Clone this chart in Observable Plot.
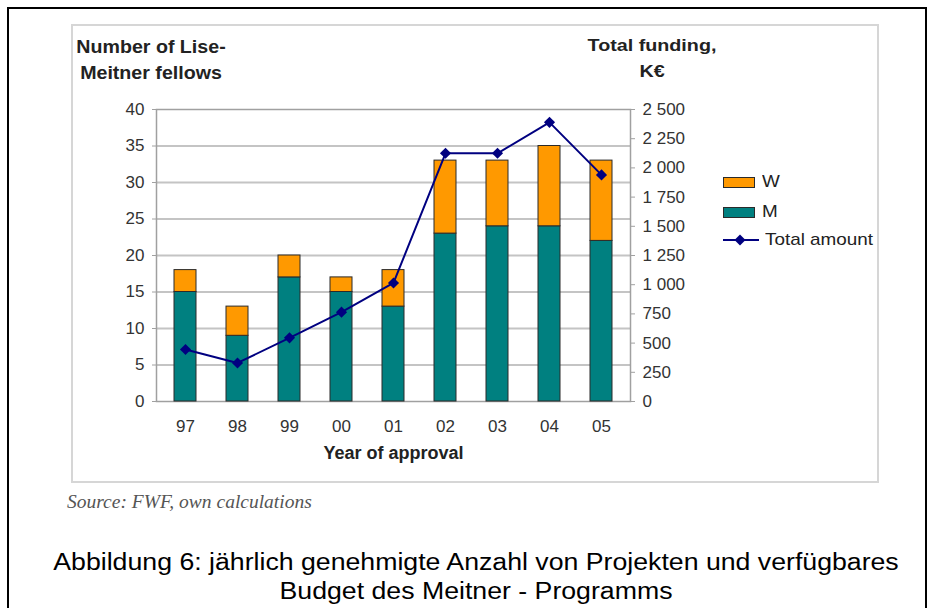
<!DOCTYPE html>
<html>
<head>
<meta charset="utf-8">
<script src="https://cdn.jsdelivr.net/npm/d3@7"></script>
<script src="https://cdn.jsdelivr.net/npm/@observablehq/plot@0.6"></script>
<style>
  html, body { margin: 0; padding: 0; background: #fff; overflow: hidden; }
  #page { position: relative; width: 931px; height: 608px; overflow: hidden; font-family: "Liberation Sans", Arial, sans-serif; }
  #frame { position: absolute; left: 7px; top: 7px; width: 920px; height: 660px; box-sizing: border-box; border: 2px solid #000; }
  #panel { position: absolute; left: 71px; top: 24px; width: 808px; height: 459px; box-sizing: border-box; border: 2px solid #d6d6d6; background: #fff; }
  #chart { position: absolute; left: 0; top: 0; }
  .title { position: absolute; font-weight: bold; color: #222; text-align: center; white-space: nowrap; line-height: 26px; transform-origin: 50% 50%; }
  .leg { position: absolute; font-size: 17px; color: #222; line-height: 20px; white-space: nowrap; transform: scaleX(1.11); transform-origin: 0 50%; }
  .sw { position: absolute; width: 32px; height: 11px; box-sizing: border-box; border: 1px solid #2a2a2a; }
  #source { position: absolute; left: 67px; top: 490px; font-family: "Liberation Serif", "Times New Roman", serif; font-style: italic; font-size: 19.5px; line-height: 24px; color: #555; white-space: nowrap; }
  #caption { position: absolute; left: 0; top: 548px; width: 952px; text-align: center; font-size: 23px; line-height: 29px; color: #000; transform: scaleX(1.16); transform-origin: 476px 50%; }
</style>
</head>
<body>
<div id="page">
  <div id="frame"></div>
  <div id="panel"></div>
  <div id="chart"></div>
  <div class="title" style="left:51px;top:34px;width:200px;font-size:18px;transform:scaleX(1.09);">Number of Lise-<br>Meitner fellows</div>
  <div class="title" style="left:552px;top:33px;width:200px;font-size:17px;transform:scaleX(1.16);">Total funding,<br>K€</div>
  <div class="sw" style="left:723px;top:177px;background:#FF9900;"></div>
  <div class="leg" style="left:762px;top:172px;">W</div>
  <div class="sw" style="left:723px;top:207px;background:#008080;"></div>
  <div class="leg" style="left:762px;top:202px;">M</div>
  <svg style="position:absolute;left:721px;top:232px;" width="40" height="16">
    <line x1="2" y1="8" x2="38" y2="8" stroke="#000080" stroke-width="2"></line>
    <path d="M19,2.5 L24.5,8 L19,13.5 L13.5,8 Z" fill="#000080"></path>
  </svg>
  <div class="leg" style="left:765px;top:230px;">Total amount</div>
  <div id="source">Source: FWF, own calculations</div>
  <div id="caption">Abbildung 6: jährlich genehmigte Anzahl von Projekten und verfügbares<br>Budget des Meitner - Programms</div>
</div>
<script>
// ---- data ----
const years = ["97", "98", "99", "00", "01", "02", "03", "04", "05"];
const men = [15, 9, 17, 15, 13, 23, 24, 24, 22];        // M fellows
const women = [3, 4, 3, 2, 5, 10, 9, 11, 11];          // W fellows
const funding = [445, 330, 545, 765, 1015, 2125, 2125, 2390, 1940]; // Total amount, K€
const countTicks = [0, 5, 10, 15, 20, 25, 30, 35, 40];
const fundingTicks = [0, 250, 500, 750, 1000, 1250, 1500, 1750, 2000, 2250, 2500];
const groups = ["M", "W"];
const groupColors = ["#008080", "#FF9900"];
const countMax = 40, fundingMax = 2500;

// ---- build tables ----
const k = countMax / fundingMax; // maps K€ onto the left axis units
const stacked = [
  ...years.map((y, i) => ({year: y, group: "M", value: men[i]})),
  ...years.map((y, i) => ({year: y, group: "W", value: women[i]}))
];
const totals = years.map((y, i) => ({year: y, funding: funding[i]}));
const fmt = d3.formatLocale({decimal: ",", thousands: " ", grouping: [3], currency: ["", ""]}).format(",");

const chart = Plot.plot({
  width: 931,
  height: 480,
  marginLeft: 156,
  marginRight: 301,
  marginTop: 109,
  marginBottom: 79,
  style: {fontFamily: "'Liberation Sans', Arial, sans-serif", fontSize: "17px", color: "#333", background: "transparent", overflow: "visible"},
  x: {domain: years, paddingInner: 0.58, paddingOuter: 0.29, label: null},
  y: {domain: [0, countMax], label: null},
  color: {domain: groups, range: groupColors},
  marks: [
    Plot.gridY(countTicks.slice(1, -1), {stroke: "#c4c4c4", strokeWidth: 2, strokeOpacity: 1}),
    Plot.frame({stroke: "#a0a0a0", strokeWidth: 1.5}),
    Plot.axisY(countTicks, {anchor: "left", tickSize: 4, tickPadding: 8, stroke: "#a0a0a0", label: null}),
    Plot.axisY(fundingTicks.map(v => v * k), {anchor: "right", tickSize: 4, tickPadding: 8, stroke: "#a0a0a0", tickFormat: d => fmt(Math.round(d / k)), label: null}),
    Plot.axisX({tickSize: 0, tickPadding: 18, label: null}),
    Plot.barY(stacked, {x: "year", y: "value", fill: "group", stroke: "#2a2a2a", strokeWidth: 1}),
    Plot.line(totals, {x: "year", y: d => d.funding * k, stroke: "#000080", strokeWidth: 2}),
    Plot.dot(totals, {x: "year", y: d => d.funding * k, symbol: "diamond2", r: 5, fill: "#000080", stroke: "none"}),
    Plot.text(["Year of approval"], {frameAnchor: "bottom", dy: 57, fontWeight: "bold", fontSize: 18, fill: "#222"})
  ]
});
document.getElementById("chart").appendChild(chart);
</script>
</body>
</html>
